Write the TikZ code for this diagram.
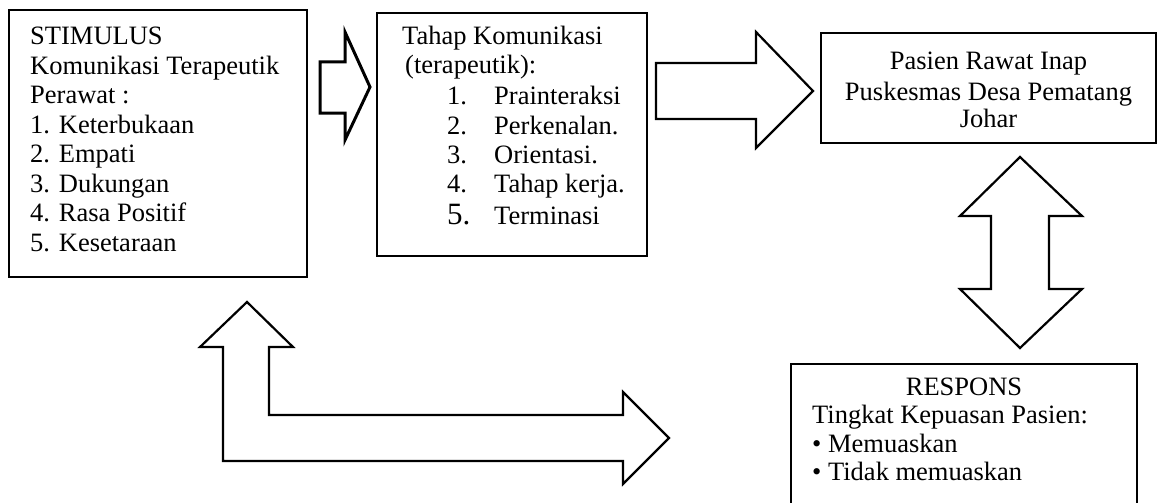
\documentclass[tikz,border=0pt]{standalone}
\usepackage{fontspec}
\setmainfont{Liberation Serif}
\begin{document}
\begin{tikzpicture}[x=1pt,y=-1pt,
  txt/.style={anchor=base west, inner sep=0pt, font=\fontsize{26.5}{29}\selectfont},
  ctxt/.style={anchor=base, inner sep=0pt, font=\fontsize{26.5}{29}\selectfont},
  boxline/.style={line width=1.3pt, line join=miter},
  blockarrow/.style={line width=2.2pt, line join=miter}]
\useasboundingbox (0,0) rectangle (1157,503);
\fill[white] (0,0) rectangle (1157,503);

% boxes
\draw[boxline] (9,10) rectangle (307,277);
\draw[boxline] (377,13) rectangle (647,256);
\draw[boxline] (821,33) rectangle (1156,143);
\draw[boxline] (791,510) -- (791,364) -- (1137,364) -- (1137,510);

% block arrows
\draw[blockarrow, line width=3pt] (320,62) -- (345,62) -- (345,32) -- (370,87) -- (345,140) -- (345,113) -- (320,113) -- cycle;
\draw[blockarrow] (656,63) -- (756,63) -- (756,32) -- (813,91) -- (756,148) -- (756,119) -- (656,119) -- cycle;
\draw[blockarrow] (1020,157) -- (1082,216) -- (1049,216) -- (1049,289) -- (1082,289) -- (1020,348) -- (960,289) -- (991,289) -- (991,216) -- (960,216) -- cycle;
\draw[blockarrow] (247,302) -- (293,347) -- (269,347) -- (269,415) -- (623,415) -- (623,392) -- (669,438) -- (623,484) -- (623,461) -- (223,461) -- (223,347) -- (200,347) -- cycle;

% box 1 text
\node[txt] (s1) at (30,45) {STIMULUS};
\node[txt] (s2) at (30,74.4) {Komunikasi Terapeutik};
\node[txt] (s3) at (30,103.9) {Perawat :};
\node[txt] (s4) at (30,133.3) {1. Keterbukaan};
\node[txt] (s5) at (30,162.7) {2. Empati};
\node[txt] (s6) at (30,192.1) {3. Dukungan};
\node[txt] (s7) at (30,221.6) {4. Rasa Positif};
\node[txt] (s8) at (30,251) {5. Kesetaraan};

% box 2 text
\node[txt] (t1) at (402,45) {Tahap Komunikasi};
\node[txt] (t2) at (405,74) {(terapeutik):};
\node[txt] (n1) at (447,104) {1.};
\node[txt] (i1) at (494,104) {Prainteraksi};
\node[txt] (n2) at (447,134) {2.};
\node[txt] (i2) at (494,134) {Perkenalan.};
\node[txt] (n3) at (447,163) {3.};
\node[txt] (i3) at (494,163) {Orientasi.};
\node[txt] (n4) at (447,192) {4.};
\node[txt] (i4) at (494,192) {Tahap kerja.};
\node[txt, font=\fontsize{31}{34}\selectfont] (n5) at (447,224) {5.};
\node[txt] (i5) at (494,224) {Terminasi};

% box 3 text
\node[ctxt] (p1) at (988.5,70) {Pasien Rawat Inap};
\node[ctxt] (p2) at (988.5,100) {Puskesmas Desa Pematang};
\node[ctxt] (p3) at (988.5,128) {Johar};

% box 4 text
\node[ctxt] (r1) at (964,395) {RESPONS};
\node[txt] (r2) at (812,423) {Tingkat Kepuasan Pasien:};
\node[txt] (r3) at (812,452) {• Memuaskan};
\node[txt] (r4) at (812,480) {• Tidak memuaskan};
\end{tikzpicture}
\end{document}
